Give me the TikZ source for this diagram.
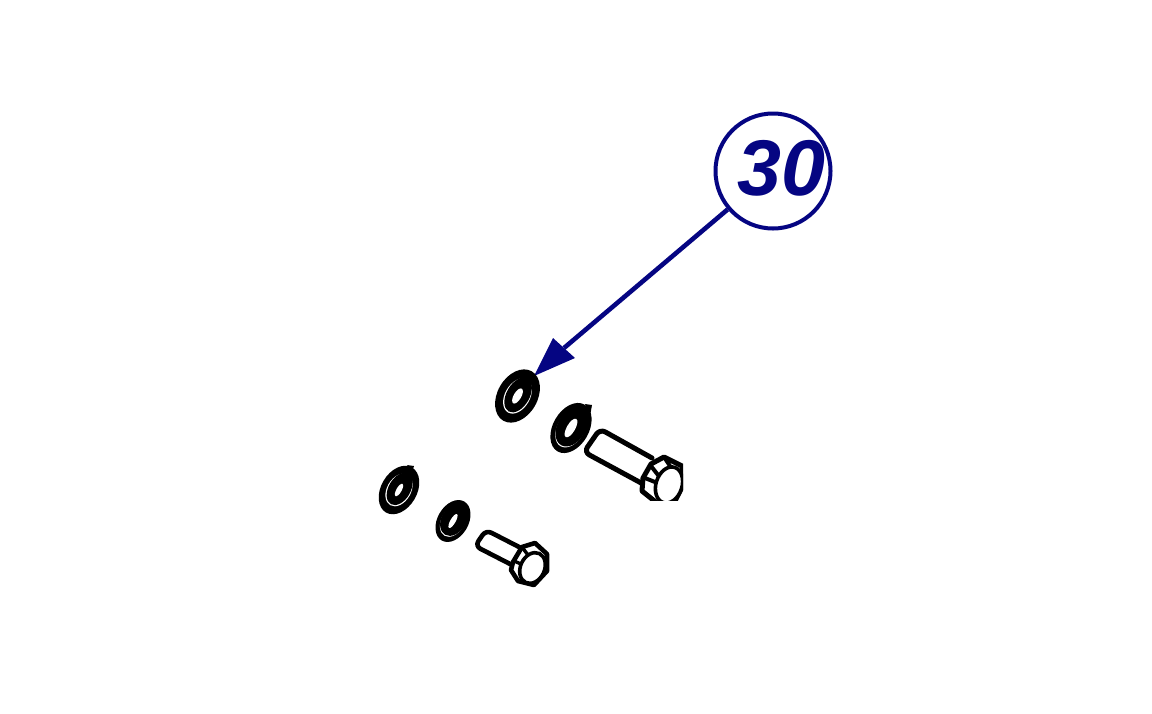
\documentclass[tikz,border=0pt]{standalone}
\usepackage{fontspec}
\setmainfont{Liberation Sans}
\definecolor{callout}{RGB}{5,5,130}
\tikzset{
  ink/.style={line width=5pt,line join=round,line cap=round,black},
  solidblack/.style={fill=black,draw=none},
  solidwhite/.style={fill=white,draw=none},
  balloon/.style={circle,draw=callout,line width=4pt,fill=white,minimum size=115pt,inner sep=0pt},
  balloontext/.style={text=callout,font=\fontsize{79}{79}\selectfont\bfseries\itshape,inner sep=0pt},
  leader/.style={draw=callout,line width=4.6pt},
}
% x y outerA outerB ringA ringB coverShrink holeA holeB
\newcommand{\washer}[9]{%
  \begin{scope}[shift={(#1,#2)},rotate=60]
    \fill[solidblack] (0,0) ellipse [x radius=#3pt,y radius=#4pt];
    \fill[solidwhite] (0,0) ellipse [x radius=#5pt,y radius=#6pt];
    \fill[solidblack] (1.2pt,0pt) ellipse [x radius=#5pt,y radius=#6pt+#7pt];
    \fill[solidwhite] (0,0) ellipse [x radius=#8pt,y radius=#9pt];
  \end{scope}}
\begin{document}
\begin{tikzpicture}[x=1pt,y=-1pt]
\useasboundingbox (0,0) rectangle (1152,713);
\fill[white] (0,0) rectangle (1152,713);
% leader and callout
\coordinate (tip) at (534,376);
\coordinate (headA) at (553,338);
\coordinate (headB) at (575,358);
\coordinate (neck) at (564,348);
\node[balloon] (bal) at (773,171) {};
\node[balloontext] (num) at (781.5,168) {30};
\draw[leader] (bal) -- (neck);
\fill[callout] (tip) -- (headA) -- (headB) -- cycle;
% washers
\washer{517.5}{396}{28.5}{20}{19}{12.5}{-1}{8.5}{3.8}
\washer{571}{428}{27}{18}{21}{13.5}{0.6}{10.5}{4.2}
\fill[black] (585,404) -- (592,405) -- (590,416) -- cycle;
\washer{399}{490}{26}{18}{17.5}{12}{-1}{7}{2.6}
\washer{453}{521}{22.5}{15.5}{17}{11.5}{0.6}{8}{2.6}
\fill[black] (407,465) -- (414,466) -- (412,472) -- cycle;
% large bolt
\begin{scope}
  \clip (560,400) rectangle (683,500);
  \draw[ink,rounded corners=6pt] (652,458) -- (600,429) -- (584,452) -- (643,484);
  \draw[ink,fill=white] (643,478) -- (651,464) -- (664,457) -- (682,466) -- (684,483) -- (674,503) -- (657,503) -- (642,491) -- cycle;
  \draw[ink,line width=4pt] (651,466) -- (658,475);
  \draw[ink,line width=4pt] (645,478) -- (655,482);
  \draw[ink,line width=4pt] (664,457) -- (670,466);
  \draw[ink,line width=3.6pt,fill=white] (669,485) ellipse [x radius=18.5pt,y radius=13pt,rotate=72];
\end{scope}
% small bolt
\draw[ink,line width=4.6pt,rounded corners=6pt] (523,549) -- (486,530) -- (475,546) -- (514,566);
\draw[ink,line width=4.6pt,fill=white] (513,562) -- (522,547) -- (535,543) -- (547,554) -- (547,571) -- (534,585) -- (518,581) -- (511,570) -- cycle;
\draw[ink,line width=3.4pt] (522,547) -- (528,555);
\draw[ink,line width=3.4pt] (514,561) -- (521,564);
\draw[ink,line width=3.6pt,fill=white] (532.5,568) ellipse [x radius=16pt,y radius=12pt,rotate=65];
\end{tikzpicture}
\end{document}
